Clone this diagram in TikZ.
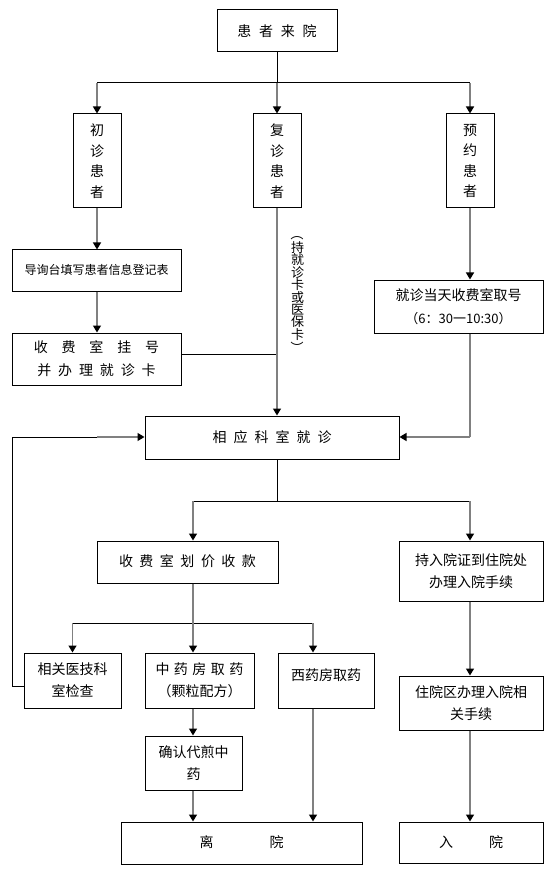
\documentclass[tikz,border=0pt]{standalone}
\usepackage{fontspec}
\usepackage{graphicx}
\newfontfamily\cjk{Noto Sans CJK SC}
\usetikzlibrary{arrows.meta,calc}
\makeatletter
\newcommand\spaced[2]{\def\sp@gap{\hspace{#1}}\sp@first#2\relax}
\def\sp@first#1{#1\sp@rest}
\def\sp@rest#1{\ifx\relax#1\else\sp@gap#1\expandafter\sp@rest\fi}
\makeatother
\tikzset{
  box/.style={draw=black, line width=1pt, inner sep=0pt, align=center,
    font=\cjk\fontsize{14}{22}\selectfont},
  blk/.style={draw=black, line width=1pt},
  arr/.style={draw=gray, line width=1.4pt,
    -{Triangle[color=black,width=8pt,length=7pt]}},
}
\begin{document}
\begin{tikzpicture}[x=1pt,y=-1pt]
\useasboundingbox[fill=white] (0,0) rectangle (552,874);
% boxes
\node[box, minimum width=120pt, minimum height=42pt] (top) at (277,31) {\spaced{7.7pt}{患者来院}};
\node[box, minimum width=48pt, minimum height=94pt, font=\cjk\fontsize{14}{20.5}\selectfont] (chu) at (97,161) {初\\诊\\患\\者};
\node[box, minimum width=48pt, minimum height=94pt, font=\cjk\fontsize{14}{20.5}\selectfont] (fu) at (277,161) {复\\诊\\患\\者};
\node[box, minimum width=48pt, minimum height=94pt, font=\cjk\fontsize{14}{20.5}\selectfont] (yy) at (470,161) {预\\约\\患\\者};
\node[box, minimum width=169pt, minimum height=41pt, font=\cjk\fontsize{12}{20}\selectfont] (dx) at (96.5,270.5) {\raisebox{2pt}{导询台填写患者信息登记表}};
\node[box, minimum width=169pt, minimum height=52pt, font=\cjk\fontsize{14}{23}\selectfont] (sf) at (96.5,359) {\spaced{13.8pt}{收费室挂号}\\\spaced{6.9pt}{并办理就诊卡}};
\node[box, minimum width=169pt, minimum height=53pt, font=\cjk\fontsize{14}{23}\selectfont] (jz) at (458.5,306.5) {就诊当天收费室取号\\{\fontsize{13}{23}\selectfont （6：30一10:30）}};
\node[box, minimum width=254pt, minimum height=43pt] (xy) at (272,437.5) {\raisebox{2pt}{\spaced{7pt}{相应科室就诊}}};
\node[box, minimum width=181pt, minimum height=42pt] (hj) at (187.5,562) {\raisebox{2pt}{\spaced{6.5pt}{收费室划价收款}}};
\node[box, minimum width=144pt, minimum height=60pt] (cr) at (471,571) {持入院证到住院处\\办理入院手续};
\node[box, minimum width=97pt, minimum height=55pt] (yj) at (72.5,680.5) {相关医技科\\室检查};
\node[box, minimum width=109pt, minimum height=55pt] (zy) at (199.5,680.5) {\spaced{4.5pt}{中药房取药}\\（颗粒配方）};
\node[box, minimum width=96pt, minimum height=55pt] (xyf) at (326,680.5) {\raisebox{11pt}{西药房取药}};
\node[box, minimum width=144pt, minimum height=54pt] (zyq) at (471,703) {住院区办理入院相\\关手续};
\node[box, minimum width=97pt, minimum height=54pt] (qr) at (193.5,763) {确认代煎中\\药};
\node[box, minimum width=241pt, minimum height=42pt] (ly) at (241.5,843) {\raisebox{2pt}{离\hspace{56pt}院}};
\node[box, minimum width=144pt, minimum height=41pt] (ry) at (471,842.5) {\raisebox{2pt}{入\hspace{36pt}院}};
% vertical label
\node[inner sep=0pt, align=center, font=\cjk\fontsize{13}{12.4}\selectfont] (lbl) at (297.5,291) {\rotatebox[origin=c]{-90}{（}\\持\\就\\诊\\卡\\或\\医\\保\\卡\\\rotatebox[origin=c]{-90}{）}};
% coordinates
\coordinate (s1) at (277,83);
\coordinate (s1l) at (97,83);
\coordinate (s1r) at (470,83);
\coordinate (j1) at (277,354);
\coordinate (r1) at (470,437);
\coordinate (l1) at (12,686);
\coordinate (l2) at (12,437);
\coordinate (l3) at (97,437);
\coordinate (s2) at (277,501);
\coordinate (s2l) at (193,501);
\coordinate (s2r) at (470,501);
\coordinate (s3) at (193,623);
\coordinate (s3l) at (72.5,623);
\coordinate (s3r) at (313,623);
% connectors
\draw[blk] (top.south) -- (s1);
\draw[blk] (s1l) -- (s1r);
\draw[arr] (s1l) -- (chu.north);
\draw[arr] (s1) -- (fu.north);
\draw[arr] (s1r) -- (yy.north);
\draw[arr] (chu.south) -- (chu.south |- dx.north);
\draw[arr] (chu.south |- dx.south) -- (chu.south |- sf.north);
\draw[blk] (sf.east |- j1) -- (j1);
\draw[arr] (fu.south) -- (fu.south |- xy.north);
\draw[arr] (yy.south) -- (yy.south |- jz.north);
\draw[draw=gray, line width=1.4pt] (yy.south |- jz.south) -- (r1);
\draw[arr] (r1) -- (xy.east |- r1);
\draw[blk] (yj.west |- l1) -- (l1) -- (l2) -- (l3);
\draw[arr] (l3) -- (xy.west |- l3);
\draw[blk] (s2 |- xy.south) -- (s2);
\draw[blk] (s2l) -- (s2r);
\draw[arr] (s2l) -- (s2l |- hj.north);
\draw[arr] (s2r) -- (s2r |- cr.north);
\draw[draw=gray, line width=1.4pt] (s3 |- hj.south) -- (s3);
\draw[blk] (s3l) -- (s3r);
\draw[arr] (s3l) -- (s3l |- yj.north);
\draw[arr] (s3) -- (s3 |- zy.north);
\draw[arr] (s3r) -- (s3r |- xyf.north);
\draw[arr] (s3 |- zy.south) -- (s3 |- qr.north);
\draw[arr] (s3 |- qr.south) -- (s3 |- ly.north);
\draw[arr] (s3r |- xyf.south) -- (s3r |- ly.north);
\draw[arr] (s2r |- cr.south) -- (s2r |- zyq.north);
\draw[arr] (s2r |- zyq.south) -- (s2r |- ry.north);
\end{tikzpicture}
\end{document}
